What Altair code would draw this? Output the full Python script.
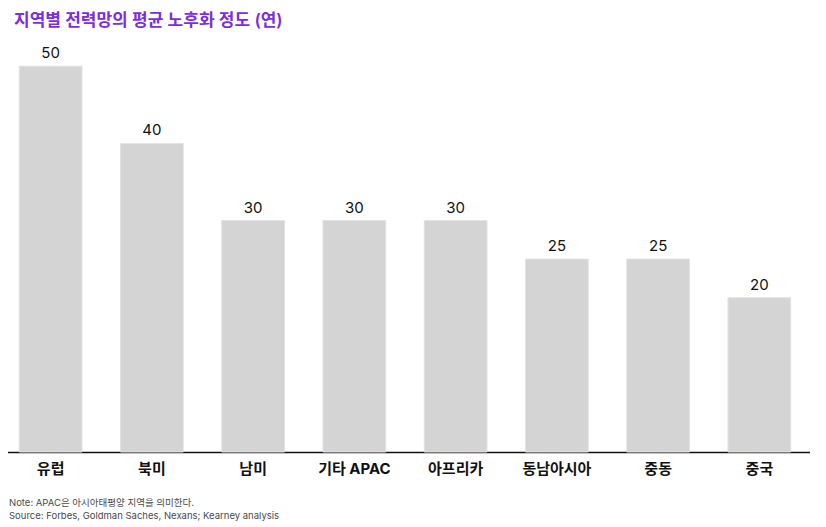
import altair as alt
import pandas as pd

regions = ["유럽", "북미", "남미", "기타 APAC", "아프리카", "동남아시아", "중동", "중국"]
years = [50, 40, 30, 30, 30, 25, 25, 20]
notes = ["Note: APAC은 아시아태평양 지역을 의미한다.", "Source: Forbes, Goldman Saches, Nexans; Kearney analysis"]

df = pd.DataFrame({"region": regions, "years": years})
FONT = "Inter, 'Noto Sans CJK KR', sans-serif"
W, H = 810, 412

x = alt.X("region:N", sort=regions, title=None,
          scale=alt.Scale(paddingInner=0.38, paddingOuter=0.19),
          axis=alt.Axis(labelAngle=0, labelFontSize=15, labelFontWeight="bold",
                        labelColor="#111111", labelFont=FONT, ticks=False,
                        labelPadding=9, domainColor="#111111", domainWidth=1.5))
y = alt.Y("years:Q", title=None, scale=alt.Scale(domain=[0, 53.4], nice=False),
          axis=None)

bars = alt.Chart(df).mark_bar(color="#d4d4d4", stroke="#e2e2e2", strokeWidth=1).encode(x=x, y=y)
labels = alt.Chart(df).mark_text(dy=-13, fontSize=15, font=FONT, color="#111111").encode(
    x=x, y=y, text=alt.Text("years:Q"))

note_layers = []
for i, t in enumerate(notes):
    note_layers.append(
        alt.Chart(pd.DataFrame({"t": [t]})).mark_text(
            align="left", baseline="middle", fontSize=9.5, font=FONT, color="#4a4a4a"
        ).encode(x=alt.value(9), y=alt.value(H + 51 + 13 * i), text="t:N")
    )

chart = alt.layer(bars, labels, *note_layers).properties(
    width=W, height=H,
    padding={"left": -8, "top": 4, "right": 0, "bottom": 0},
    title=alt.TitleParams("지역별 전력망의 평균 노후화 정도 (연)", anchor="start", fontSize=17,
                          fontWeight=600, color="#7a2ee0", font=FONT, offset=10, dx=14),
).configure_view(stroke=None)

chart.save("out.html", embed_options={"renderer": "svg", "actions": False})
